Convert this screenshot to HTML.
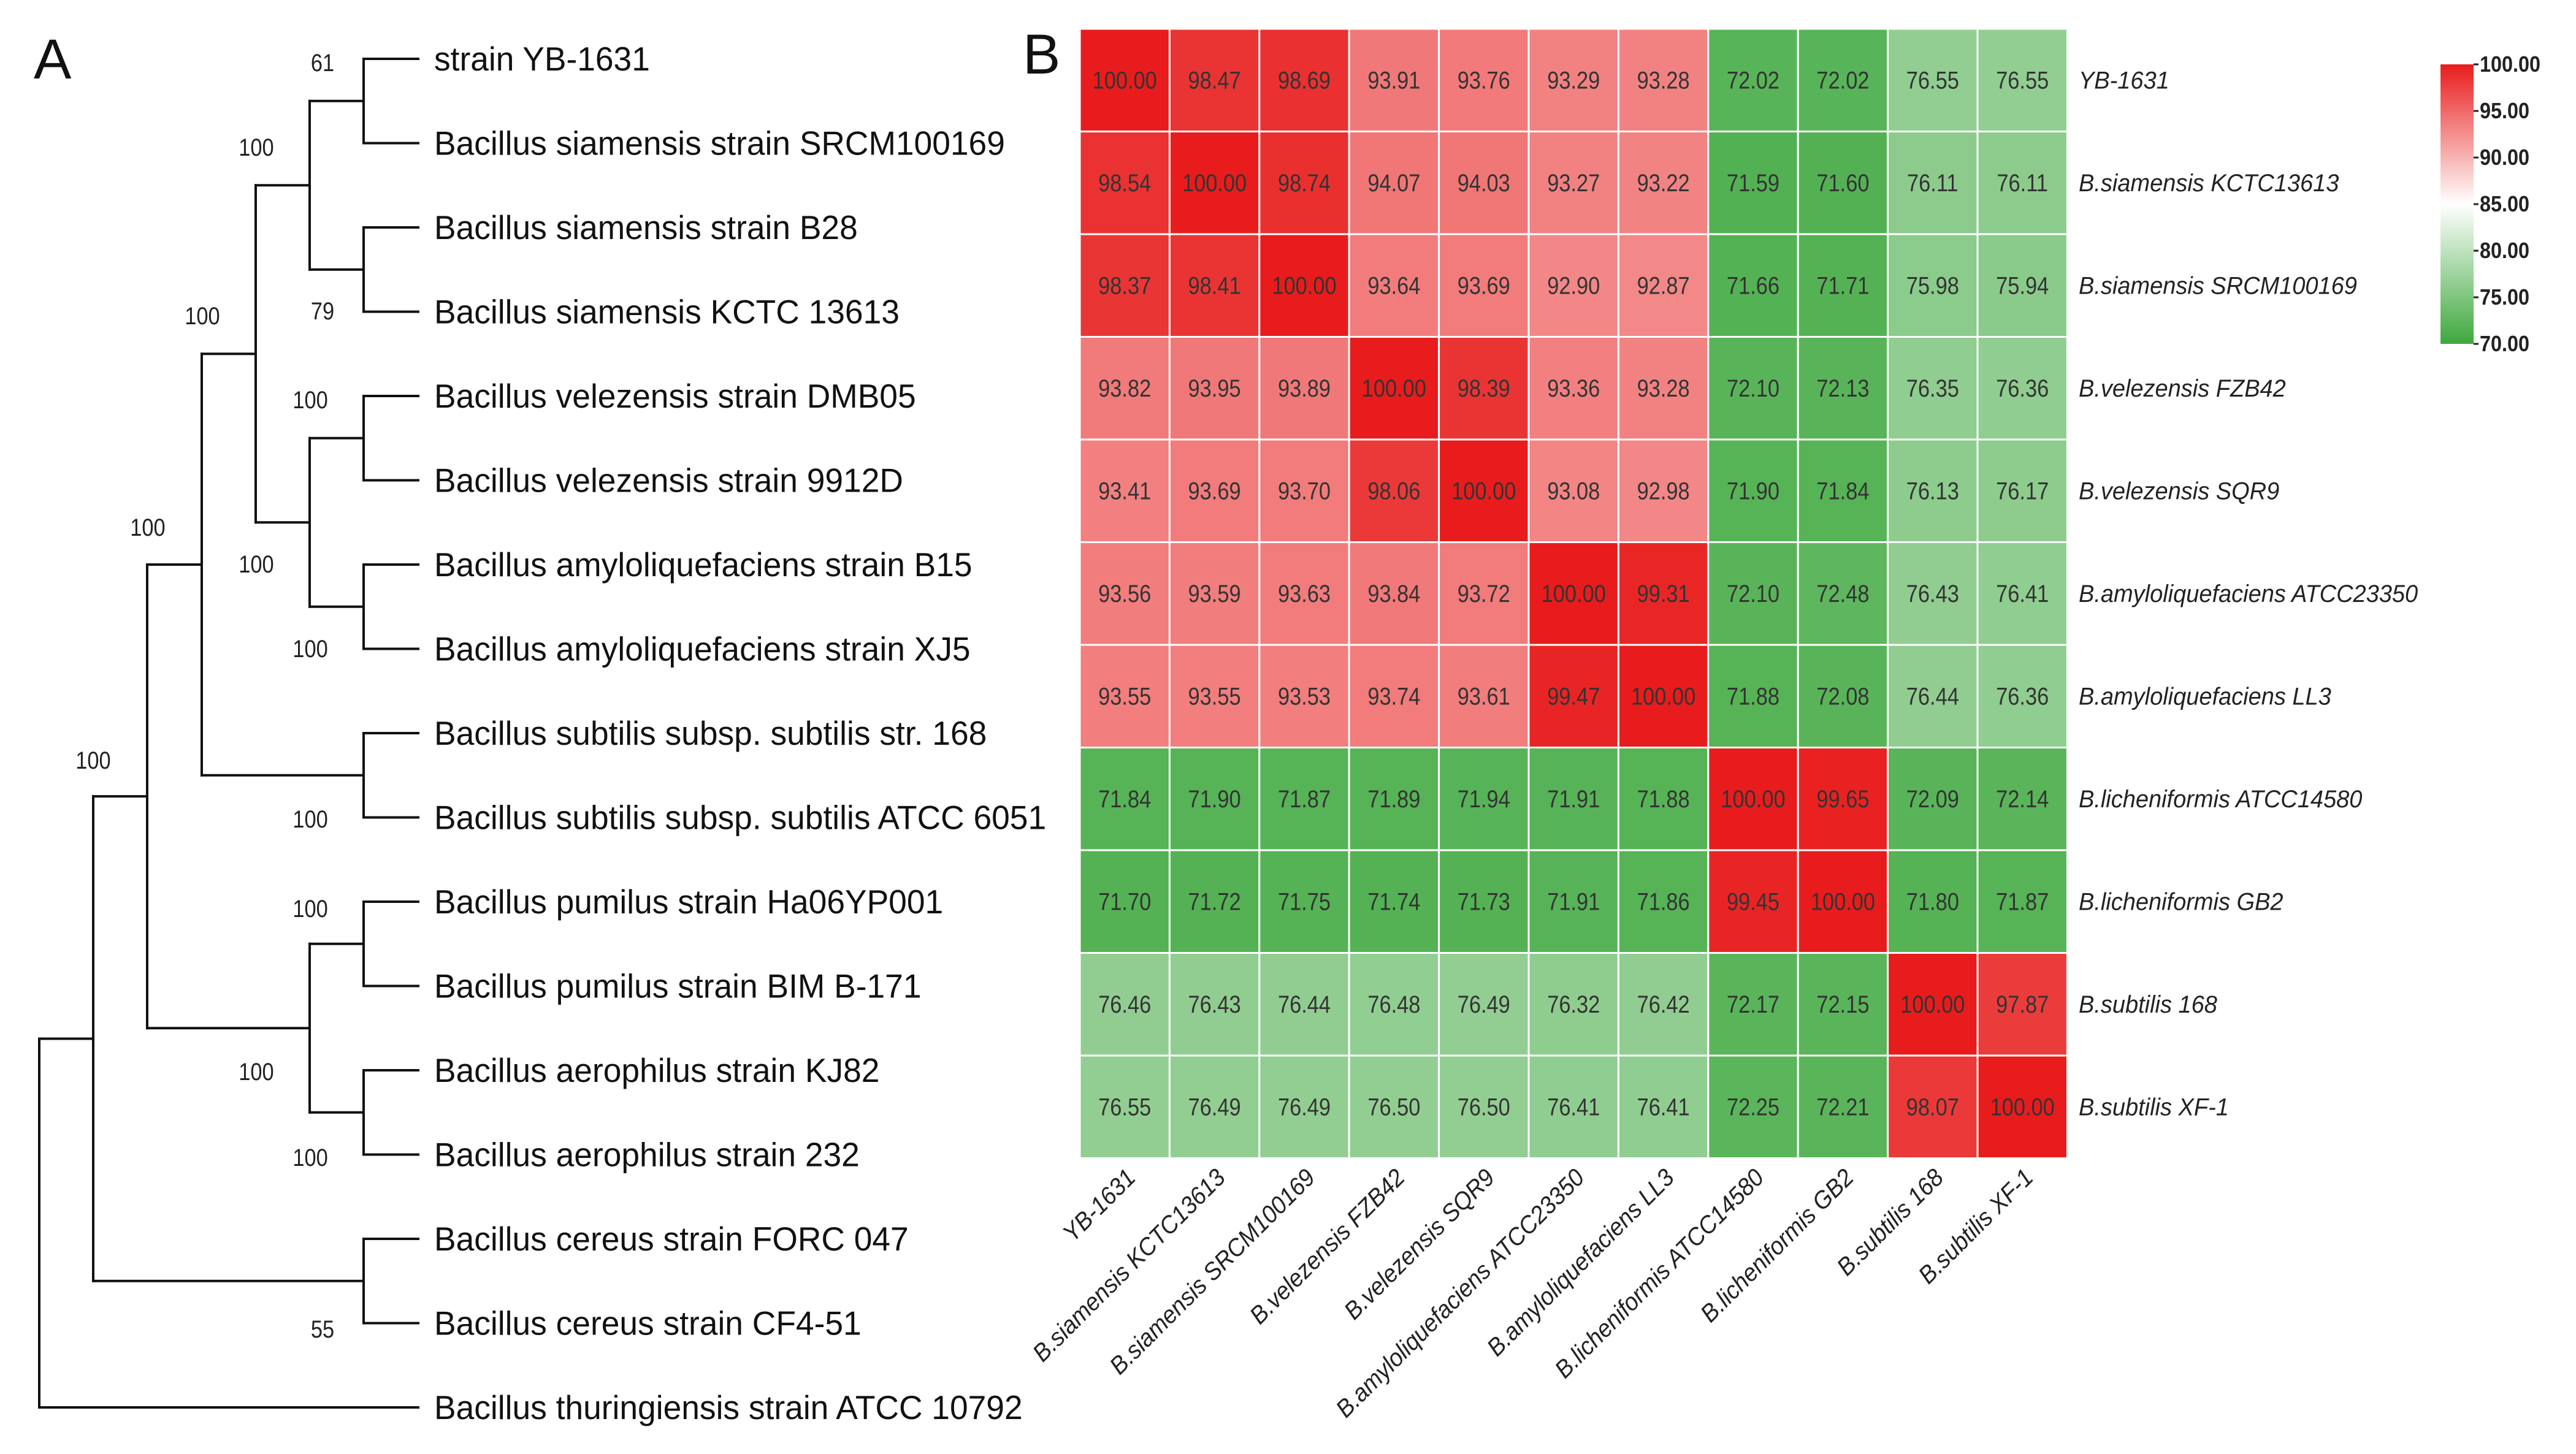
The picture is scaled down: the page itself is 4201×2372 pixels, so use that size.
<!DOCTYPE html>
<html><head><meta charset="utf-8"><style>
html,body{margin:0;padding:0;background:#fff;}
svg{display:block;font-family:"Liberation Sans",sans-serif;}
</style></head><body>
<svg id="fig" width="4201" height="2372" viewBox="0 0 4201 2372" xmlns="http://www.w3.org/2000/svg">
<text x="55" y="128" font-size="92" fill="#111">A</text>
<text x="1668" y="120" font-size="92" fill="#111">B</text>
<g id="tree"></g>
<g id="heat"></g>
<g id="cbar"></g>
</svg>
<script>
const leafNames = ["strain YB-1631","Bacillus siamensis strain SRCM100169","Bacillus siamensis strain B28","Bacillus siamensis KCTC 13613","Bacillus velezensis strain DMB05","Bacillus velezensis strain 9912D","Bacillus amyloliquefaciens strain B15","Bacillus amyloliquefaciens strain XJ5","Bacillus subtilis subsp. subtilis str. 168","Bacillus subtilis subsp. subtilis ATCC 6051","Bacillus pumilus strain Ha06YP001","Bacillus pumilus strain BIM B-171","Bacillus aerophilus strain KJ82","Bacillus aerophilus strain 232","Bacillus cereus strain FORC 047","Bacillus cereus strain CF4-51","Bacillus thuringiensis strain ATCC 10792"];
const bootLabels = [["61",526,102],["100",418,240],["100",330,515],["79",526,507],["100",506,652],["100",418,920],["100",506,1058],["100",241,860],["100",152,1240],["100",506,1336],["100",506,1482],["100",418,1748],["100",506,1888],["55",526,2168]];
const rowLabels = ["YB-1631","B.siamensis KCTC13613","B.siamensis SRCM100169","B.velezensis FZB42","B.velezensis SQR9","B.amyloliquefaciens ATCC23350","B.amyloliquefaciens LL3","B.licheniformis ATCC14580","B.licheniformis GB2","B.subtilis 168","B.subtilis XF-1"];
const row0 = [100.00,98.47,98.69,93.91,93.76,93.29,93.28,72.02,72.02,76.55,76.55];
const row1 = [98.54,100.00,98.74,94.07,94.03,93.27,93.22,71.59,71.60,76.11,76.11];
const row2 = [98.37,98.41,100.00,93.64,93.69,92.90,92.87,71.66,71.71,75.98,75.94];
const row3 = [93.82,93.95,93.89,100.00,98.39,93.36,93.28,72.10,72.13,76.35,76.36];
const row4 = [93.41,93.69,93.70,98.06,100.00,93.08,92.98,71.90,71.84,76.13,76.17];
const row5 = [93.56,93.59,93.63,93.84,93.72,100.00,99.31,72.10,72.48,76.43,76.41];
const row6 = [93.55,93.55,93.53,93.74,93.61,99.47,100.00,71.88,72.08,76.44,76.36];
const row7 = [71.84,71.90,71.87,71.89,71.94,71.91,71.88,100.00,99.65,72.09,72.14];
const row8 = [71.70,71.72,71.75,71.74,71.73,71.91,71.86,99.45,100.00,71.80,71.87];
const row9 = [76.46,76.43,76.44,76.48,76.49,76.32,76.42,72.17,72.15,100.00,97.87];
const row10 = [76.55,76.49,76.49,76.50,76.50,76.41,76.41,72.25,72.21,98.07,100.00];
const cbarTicks = [100,95,90,85,80,75,70];

const NS="http://www.w3.org/2000/svg";
function mk(tag,attrs,parent){const e=document.createElementNS(NS,tag);for(const k in attrs)e.setAttribute(k,attrs[k]);parent.appendChild(e);return e;}
const TSX=0.97, CSX=0.86, LSX=0.95;

// ---- tree ----
const tree=document.getElementById('tree');
const leafY=i=>96+i*137.5;
const lvl=[682,593,505,417,329,240,152,64];
function line(x1,y1,x2,y2,name){const l=mk('line',{x1,y1,x2,y2,stroke:'#111','stroke-width':4,'stroke-linecap':'square'},tree);

}
function node(x,ch){return {x,ch};}
const root=node(lvl[7],[
 node(lvl[6],[
  node(lvl[5],[
   node(lvl[4],[
    node(lvl[3],[
      node(lvl[2],[node(lvl[1],[0,1]),node(lvl[1],[2,3])]),
      node(lvl[2],[node(lvl[1],[4,5]),node(lvl[1],[6,7])])
    ]),
    node(lvl[1],[8,9])
   ]),
   node(lvl[2],[node(lvl[1],[10,11]),node(lvl[1],[12,13])])
  ]),
  node(lvl[1],[14,15])
 ]),
 16
]);
function draw(n){
 if(typeof n==='number') return {y:leafY(n),x:lvl[0]};
 const cs=n.ch.map(draw);
 cs.forEach(c=>line(n.x,c.y,c.x,c.y,'tree-branch'));
 const ys=cs.map(c=>c.y);
 line(n.x,Math.min(...ys),n.x,Math.max(...ys),'tree-node');
 return {y:(Math.min(...ys)+Math.max(...ys))/2,x:n.x};
}
draw(root);
leafNames.forEach((t,i)=>{
 const e=mk('text',{x:(708/TSX).toFixed(1),y:leafY(i)+19,'font-size':55,fill:'#111',transform:`scale(${TSX},1)`},tree);
 
 
 e.textContent=t;
});
bootLabels.forEach(b=>{
 const e=mk('text',{x:(b[1]/CSX).toFixed(1),y:b[2]+14,'font-size':40,fill:'#222','text-anchor':'middle',transform:`scale(${CSX},1)`},tree);
 
 
 e.textContent=b[0];
});

// ---- heatmap ----
const heat=document.getElementById('heat');
const rows=[row0,row1,row2,row3,row4,row5,row6,row7,row8,row9,row10];
const X0=1761,Y0=47,CW=146.4,CH=167.5;
const colX=j=>X0+j*CW, rowY=i=>Y0+i*CH;
function color(v){
 const red=[232,28,28],white=[255,255,255],green=[62,168,62];
 let a,b,t;
 if(v>=85){a=white;b=red;t=(Math.min(v,100)-85)/15;} else {a=white;b=green;t=(85-Math.max(v,70))/15;}
 return `rgb(${a.map((c,k)=>Math.round(c+(b[k]-c)*t)).join(',')})`;
}
rows.forEach((r,i)=>r.forEach((v,j)=>{
 const c=mk('rect',{x:colX(j),y:rowY(i),width:CW,height:CH,fill:color(v),stroke:'#fff','stroke-width':3},heat);
 
 
 const t=mk('text',{x:((colX(j)+CW/2)/CSX).toFixed(1),y:rowY(i)+CH/2+14,'font-size':40,fill:'#333','text-anchor':'middle',transform:`scale(${CSX},1)`},heat);
 
 
 t.textContent=v.toFixed(2);
}));
rowLabels.forEach((s,i)=>{
 const t=mk('text',{x:(3390/LSX).toFixed(1),y:rowY(i)+CH/2+14,'font-size':40,'font-style':'italic',fill:'#222',transform:`scale(${LSX},1)`},heat);
 
 
 t.textContent=s;
});
rowLabels.forEach((s,j)=>{
 const cx=colX(j)+CW/2+20, cy=Y0+11*CH+34;
 const t=mk('text',{x:0,y:0,'font-size':40,'font-style':'italic',fill:'#222','text-anchor':'end',transform:`translate(${cx},${cy}) rotate(-45) scale(${LSX},1)`},heat);
 
 
 t.textContent=s;
});

// ---- colorbar ----
const cb=document.getElementById('cbar');
const defs=mk('defs',{},cb);
const g=mk('linearGradient',{id:'cg',x1:0,y1:0,x2:0,y2:1},defs);
[100,92.5,85,77.5,70].forEach((v,k)=>mk('stop',{offset:(k/4),'stop-color':color(v)},g));
const CBT=105,CBB=561,CBX=3980,CBW=54;
const bar=mk('rect',{x:CBX,y:CBT,width:CBW,height:CBB-CBT,fill:'url(#cg)'},cb);


const cy=v=>CBT+(100-v)/30*(CBB-CBT);
cbarTicks.forEach(v=>{
 const l=mk('line',{x1:CBX+CBW,x2:CBX+CBW+8,y1:cy(v),y2:cy(v),stroke:'#222','stroke-width':3},cb);
 
 
 const t=mk('text',{x:((CBX+CBW+10)/0.9).toFixed(1),y:cy(v)+12,'font-size':36,'font-weight':'bold',fill:'#222',transform:`scale(0.9,1)`},cb);
 
 
 t.textContent=v.toFixed(2);
});
</script>
</body></html>
